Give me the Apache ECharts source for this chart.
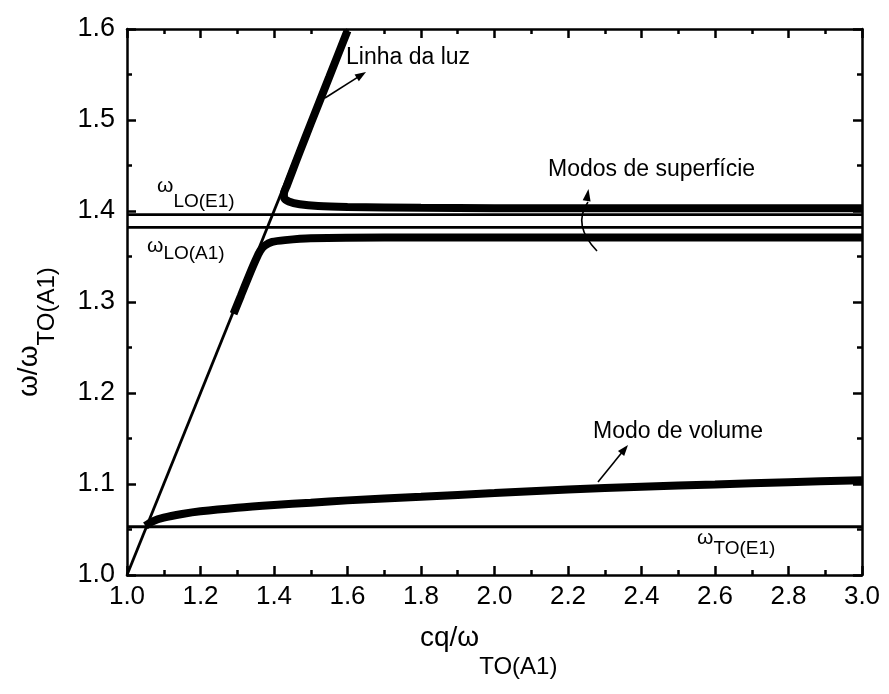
<!DOCTYPE html>
<html>
<head>
<meta charset="utf-8">
<script src="https://cdn.jsdelivr.net/npm/echarts@6/dist/echarts.min.js"></script>
<style>
  html, body { margin: 0; padding: 0; background: #fff; }
  #chart { width: 889px; height: 694px; }
</style>
</head>
<body>
<div id="chart"></div>
<script>
// Polariton dispersion: reduced frequency vs reduced wavevector
const xTicks = [1.0, 1.2, 1.4, 1.6, 1.8, 2.0, 2.2, 2.4, 2.6, 2.8, 3.0];
const yTicks = [1.0, 1.1, 1.2, 1.3, 1.4, 1.5, 1.6];

// light line  omega = c q
const lightLine = [[1.0, 1.0], [1.6, 1.6]];

// reference phonon frequencies
const omegaLOE1 = 1.396;
const omegaLOA1 = 1.382;
const omegaTOE1 = 1.053;

// upper surface mode (leaves the light line and flattens above LO(E1))
const upperSurface = [
  [1.600, 1.598], [1.550, 1.547], [1.500, 1.496], [1.470, 1.465],
  [1.450, 1.444], [1.435, 1.428], [1.427, 1.419], [1.428, 1.414],
  [1.440, 1.4105], [1.470, 1.4075], [1.520, 1.4055], [1.600, 1.4045],
  [1.800, 1.4035], [2.200, 1.403], [2.600, 1.403], [3.000, 1.403]
];

// lower surface mode (follows the light line then saturates below LO(A1))
const lowerSurface = [
  [1.290, 1.287], [1.310, 1.307], [1.330, 1.327], [1.350, 1.346],
  [1.362, 1.356], [1.375, 1.362], [1.395, 1.366], [1.430, 1.368],
  [1.500, 1.370], [1.700, 1.371], [2.200, 1.371], [3.000, 1.371]
];

// bulk (volume) mode
const volumeMode = [
  [1.050, 1.054], [1.070, 1.059], [1.100, 1.063], [1.150, 1.067],
  [1.200, 1.070], [1.300, 1.074], [1.400, 1.077], [1.500, 1.0795],
  [1.600, 1.082], [1.800, 1.086], [2.000, 1.090], [2.200, 1.094],
  [2.400, 1.097], [2.600, 1.0995], [2.800, 1.102], [3.000, 1.104]
];

const FONT = '"Liberation Sans", Arial, Helvetica, sans-serif';
const BLACK = '#000';

const chart = echarts.init(document.getElementById('chart'), null, { renderer: 'canvas' });

// width of a string in the given font, used to butt subscripts against their base text
const measureCtx = document.createElement('canvas').getContext('2d');
function textWidth(s, size) {
  measureCtx.font = size + 'px ' + FONT;
  return measureCtx.measureText(s).width;
}

function hLine(v) {
  return [[xTicks[0], v], [xTicks[xTicks.length - 1], v]];
}

function lineSeries(data, width, smooth) {
  return {
    type: 'line',
    data: data,
    showSymbol: false,
    symbol: 'none',
    smooth: smooth || false,
    lineStyle: { color: BLACK, width: width },
    z: 3,
    silent: true
  };
}

const axisCommon = {
  axisLine: { show: true, onZero: false, lineStyle: { color: BLACK, width: 2.5 } },
  axisTick: { show: true, inside: true, length: 9, lineStyle: { color: BLACK, width: 2.5 } },
  minorTick: { show: true, splitNumber: 2, length: 5, lineStyle: { color: BLACK, width: 2.5 } },
  splitLine: { show: false },
  minorSplitLine: { show: false }
};

// arrowhead polygon at tip (tx,ty) coming from (fx,fy)
function arrowHead(fx, fy, tx, ty, len, half) {
  const dx = tx - fx, dy = ty - fy;
  const d = Math.sqrt(dx * dx + dy * dy);
  const ux = dx / d, uy = dy / d;
  const bx = tx - ux * len, by = ty - uy * len;
  return {
    type: 'polygon',
    shape: { points: [[tx, ty], [bx - uy * half, by + ux * half], [bx + uy * half, by - ux * half]] },
    style: { fill: BLACK },
    z: 10
  };
}

function straightArrow(fx, fy, tx, ty) {
  return [
    { type: 'line', shape: { x1: fx, y1: fy, x2: tx - (tx - fx) * 0.15, y2: ty - (ty - fy) * 0.15 },
      style: { stroke: BLACK, lineWidth: 1.6 }, z: 10 },
    arrowHead(fx, fy, tx, ty, 11, 4)
  ];
}

function txt(x, y, s, size, extra) {
  return Object.assign({
    type: 'text', x: x, y: y, z: 10,
    style: { text: s, fill: BLACK, font: size + 'px ' + FONT, align: 'left', verticalAlign: 'middle' }
  }, extra || {});
}

// base symbol followed by a lowered subscript
function withSub(x, y, base, baseSize, sub, subSize, drop) {
  const w = textWidth(base, baseSize);
  return [txt(x, y, base, baseSize), txt(x + w, y + drop, sub, subSize)];
}

const SUB = 19;
const NOTE = 23;

const graphics = [
  txt(346, 58, 'Linha da luz', NOTE),
  txt(548, 170, 'Modos de superfície', NOTE),
  txt(593, 432, 'Modo de volume', NOTE),

  // x-axis title
  txt(420, 638, 'cq/ω', 28),
  // y-axis title (rotated, reads bottom to top)
  txt(29, 397, 'ω/ω', 28, { rotation: Math.PI / 2 }),
  txt(47, 397 - textWidth('ω/ω', 28), 'TO(A1)', 24, { rotation: Math.PI / 2 }),

  // curved arrow for the surface modes
  { type: 'bezierCurve',
    shape: { x1: 597, y1: 251, cpx1: 572, cpy1: 225, x2: 588, y2: 202 },
    style: { stroke: BLACK, lineWidth: 1.6, fill: null }, z: 10 },
  arrowHead(585.5, 208, 588.5, 189, 12, 4)
]
  .concat([txt(420 + textWidth('cq/ω', 28), 667, 'TO(A1)', 24)])
  .concat(withSub(157, 186, 'ω', 21, 'LO(E1)', SUB, 16))
  .concat(withSub(147, 246, 'ω', 21, 'LO(A1)', SUB, 8))
  .concat(withSub(697, 538, 'ω', 21, 'TO(E1)', SUB, 11))
  .concat(straightArrow(325, 98, 366, 72))
  .concat(straightArrow(598, 482, 628, 445));

const option = {
  animation: false,
  backgroundColor: '#fff',
  grid: { left: 127, right: 27, top: 29, bottom: 119, containLabel: false },
  xAxis: [
    Object.assign({}, axisCommon, {
      type: 'value', position: 'bottom',
      min: xTicks[0], max: xTicks[xTicks.length - 1], interval: 0.2,
      axisLabel: { show: true, color: BLACK, fontSize: 26, fontFamily: FONT, margin: 9,
        formatter: v => v.toFixed(1) }
    }),
    Object.assign({}, axisCommon, {
      type: 'value', position: 'top',
      min: xTicks[0], max: xTicks[xTicks.length - 1], interval: 0.2,
      axisLabel: { show: false }
    })
  ],
  yAxis: [
    Object.assign({}, axisCommon, {
      type: 'value', position: 'left',
      min: yTicks[0], max: yTicks[yTicks.length - 1], interval: 0.1,
      axisLabel: { show: true, color: BLACK, fontSize: 27, fontFamily: FONT, margin: 12,
        formatter: v => v.toFixed(1) }
    }),
    Object.assign({}, axisCommon, {
      type: 'value', position: 'right',
      min: yTicks[0], max: yTicks[yTicks.length - 1], interval: 0.1,
      axisLabel: { show: false }
    })
  ],
  series: [
    lineSeries(lightLine, 2.8),
    lineSeries(hLine(omegaLOE1), 2.8),
    lineSeries(hLine(omegaLOA1), 2.8),
    lineSeries(hLine(omegaTOE1), 2.8),
    lineSeries(upperSurface, 8, 0.25),
    lineSeries(lowerSurface, 8, 0.25),
    lineSeries(volumeMode, 8, 0.3)
  ],
  graphic: graphics
};

chart.setOption(option);
</script>
</body>
</html>
